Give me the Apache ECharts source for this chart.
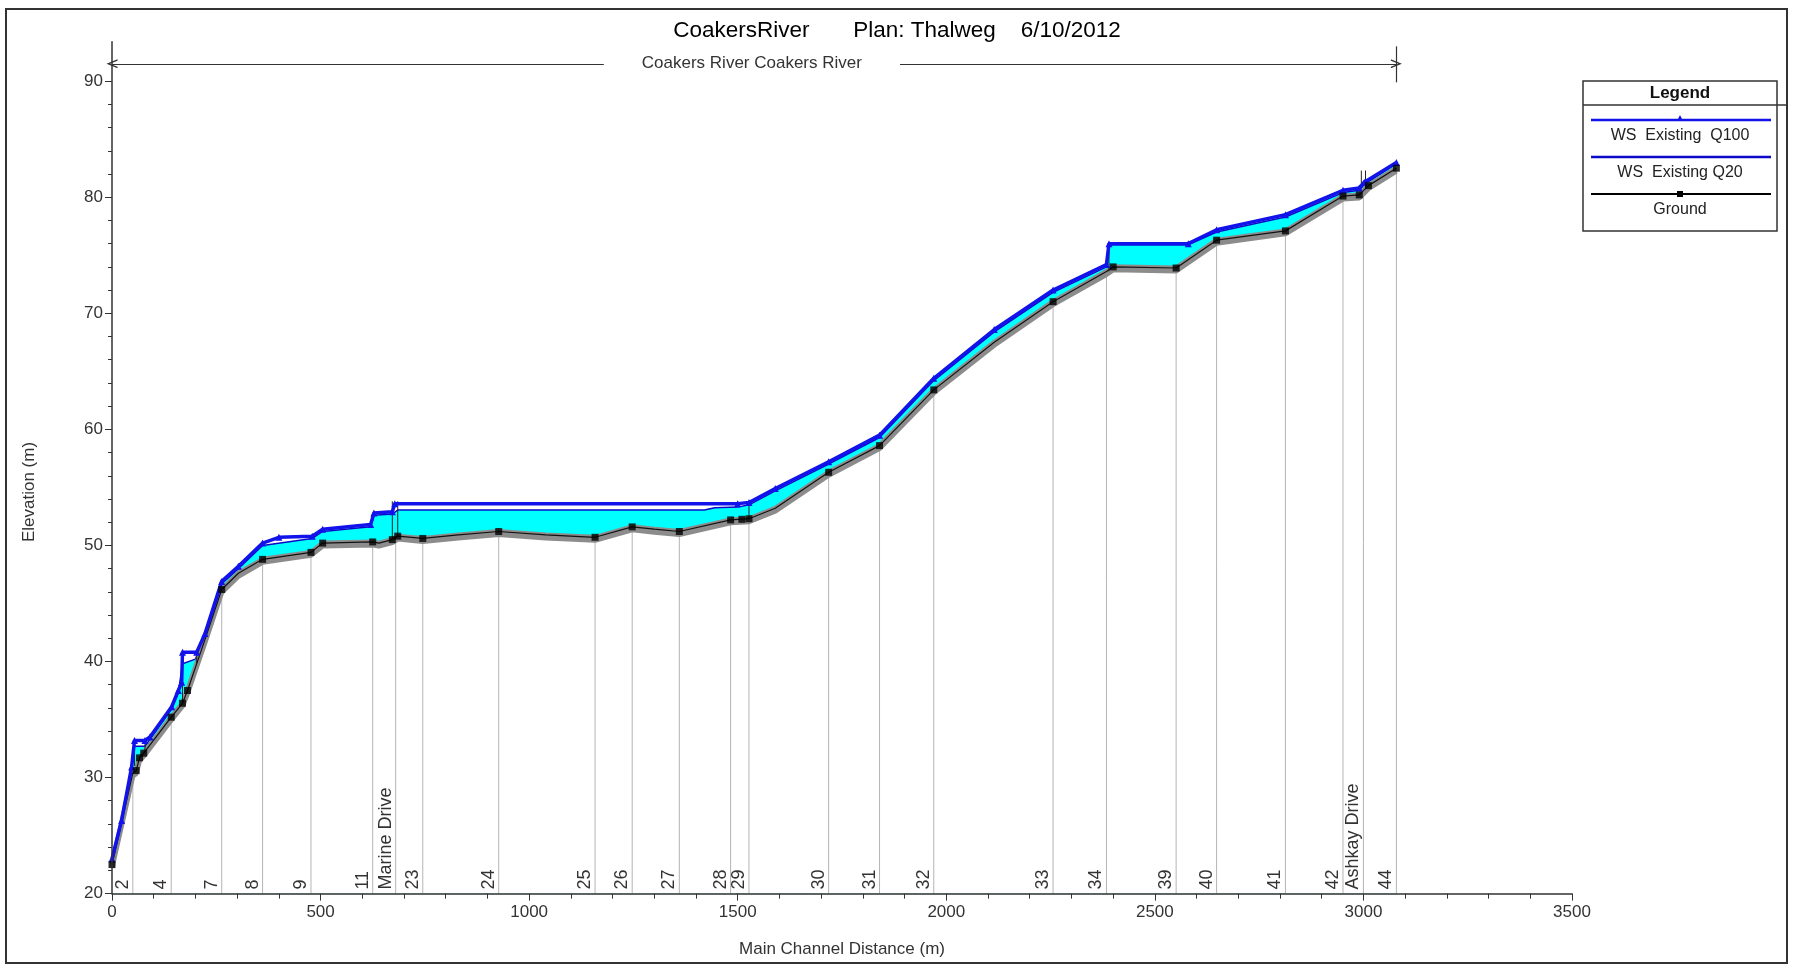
<!DOCTYPE html>
<html>
<head>
<meta charset="utf-8">
<script src="https://cdn.jsdelivr.net/npm/echarts@6/dist/echarts.min.js"></script>
<style>
html,body{margin:0;padding:0;background:#fff;}
#chart{width:1794px;height:968px;}
</style>
</head>
<body>
<div id="chart"></div>
<script>
// ---------------- data ----------------
const titleText = 'CoakersRiver       Plan: Thalweg    6/10/2012';
const reachName = 'Coakers River Coakers River';
const reachStart = 0, reachEnd = 3079, reachElev = 91.5, reachGapStart = 1179, reachGapEnd = 1889;

const sectionNames = ['2','4','7','8','9','11','Marine Drive','23','24','25','26','27','28','29','30','31','32','33','34','39','40','41','42','Ashkay Drive','44'];
const sectionDist  = [50,142,263,361,477,625,680,745,927,1158,1247,1360,1483,1527,1718,1840,1970,2256,2384,2551,2648,2813,2951,3000,3079];
const sectionElev  = [30.5,35.2,46.2,48.8,49.4,50.3,50.8,50.6,51.2,50.7,51.6,51.2,52.2,52.3,56.3,58.6,63.4,71.0,73.6,73.9,76.3,77.1,80.1,80.3,82.5];

const groundDist = [0,50,58,66,76,142,169,181,222,263,303,361,477,505,625,640,672,685,745,830,927,1040,1158,1247,1300,1360,1483,1527,1590,1718,1840,1970,2115,2256,2384,2400,2551,2648,2813,2951,2990,3012,3079];
const groundElev = [22.5,30.4,30.6,31.7,32.1,35.2,36.4,37.5,41.8,46.2,47.6,48.8,49.4,50.2,50.3,50.2,50.5,50.8,50.6,50.9,51.2,50.9,50.7,51.6,51.4,51.2,52.2,52.3,53.2,56.3,58.6,63.4,67.5,71.0,73.6,74.0,73.9,76.3,77.1,80.1,80.2,81.0,82.5];

const groundMarkDist = [0,58,66,76,142,169,181,263,361,477,505,625,672,685,745,927,1158,1247,1360,1483,1510,1527,1718,1840,1970,2256,2400,2551,2648,2813,2951,2990,3012,3079];
const groundMarkElev = [22.5,30.6,31.7,32.1,35.2,36.4,37.5,46.2,48.8,49.4,50.2,50.3,50.5,50.8,50.6,51.2,50.7,51.6,51.2,52.2,52.25,52.3,56.3,58.6,63.4,71.0,74.0,73.9,76.3,77.1,80.1,80.2,81.0,82.5];

const q100Dist = [0,23,47,54,79,91,143,159,167,169,203,223,263,303,361,400,480,505,620,628,672,678,1500,1527,1590,1718,1840,1970,2115,2256,2384,2390,2580,2648,2813,2951,2990,3002,3079];
const q100Elev = [23.0,26.3,30.9,33.2,33.2,33.5,36.1,37.5,38.2,40.8,40.8,42.4,46.9,48.2,50.2,50.7,50.8,51.4,51.8,52.8,52.9,53.6,53.6,53.7,54.9,57.2,59.5,64.4,68.6,72.0,74.2,76.0,76.0,77.2,78.5,80.6,80.8,81.3,83.0];

const q20Dist = [0,23,47,54,79,91,143,159,169,200,223,263,303,361,480,505,620,628,672,685,1420,1445,1500,1527,1590,1718,1840,1970,2115,2256,2384,2390,2580,2648,2813,2951,2990,3002,3079];
const q20Elev = [22.9,26.1,30.7,32.7,32.7,33.3,35.9,37.3,39.8,40.2,42.2,46.7,48.0,50.0,50.6,51.2,51.6,52.6,52.7,53.05,53.05,53.25,53.3,53.5,54.7,57.0,59.3,64.2,68.4,71.8,74.0,75.9,75.9,77.0,78.3,80.4,80.6,81.1,82.9];

// bridges / culverts (thin vertical outlines)
const structDist = [54,79,169,203,672,685,1527,2390,2995,3005];
const structLow  = [31.0,32.1,36.5,39.8,50.5,50.8,52.3,73.6,80.9,80.9];
const structHigh = [33.3,33.3,40.9,40.9,53.8,53.8,53.7,76.1,82.3,82.3];

const yMajorTicks = [20,30,40,50,60,70,80,90];
const yMinorTicks = [22,24,26,28,32,34,36,38,42,44,46,48,52,54,56,58,62,64,66,68,72,74,76,78,82,84,86,88];

// ---------------- chart ----------------
const FONT = 'Liberation Sans, Arial, sans-serif';
const pairs = (xs, ys) => xs.map((x, i) => [x, ys[i]]);
const chevron = 'path://M0,10 L5,0 L10,10 L8.4,10 L5,3.2 L1.6,10 Z';

const chart = echarts.init(document.getElementById('chart'), null, {renderer: 'canvas'});

const option = {
  animation: false,
  backgroundColor: '#fff',
  title: {
    text: titleText, left: 'center', top: 14,
    textStyle: {fontFamily: FONT, fontSize: 22.5, fontWeight: 'normal', color: '#000'}
  },
  grid: {left: 112, right: 222, top: 41.7, bottom: 74.4, containLabel: false},
  xAxis: {
    type: 'value', min: 0, max: 3500, interval: 500, z: 20,
    name: 'Main Channel Distance (m)', nameLocation: 'middle', nameGap: 47,
    nameTextStyle: {fontFamily: FONT, fontSize: 17, color: '#333'},
    axisLine: {lineStyle: {color: '#333', width: 1.5}},
    axisTick: {length: 7, lineStyle: {color: '#333'}},
    minorTick: {show: true, splitNumber: 5, length: 5, lineStyle: {color: '#333'}},
    axisLabel: {fontFamily: FONT, fontSize: 17, color: '#333', margin: 10, formatter: v => String(v)},
    splitLine: {show: false}
  },
  yAxis: [{
    type: 'value', min: 20, max: 93.4, interval: 10, z: 20,
    axisLine: {show: true, lineStyle: {color: '#333', width: 1.5}},
    axisTick: {show: true, length: 7, lineStyle: {color: '#333'}, customValues: yMajorTicks},
    axisLabel: {fontFamily: FONT, fontSize: 17, color: '#333', margin: 9, customValues: yMajorTicks,
      formatter: v => (v % 10 === 0 ? String(v) : '')},
    splitLine: {show: false}
  }, {
    type: 'value', min: 20, max: 93.4, position: 'left', offset: 0, z: 20,
    axisLine: {show: false},
    axisTick: {show: true, length: 4, lineStyle: {color: '#333'}, customValues: yMinorTicks},
    axisLabel: {show: false},
    splitLine: {show: false}
  }],
  series: [
    { // water fill (Q20) + line
      type: 'line', name: 'WS Existing Q20', data: pairs(q20Dist, q20Elev),
      showSymbol: false, silent: true, z: 1,
      lineStyle: {color: '#0a0ac8', width: 1.5},
      areaStyle: {color: '#00ffff', opacity: 1, origin: 'start'}
    },
    { // white under ground
      type: 'line', data: pairs(groundDist, groundElev),
      showSymbol: false, silent: true, z: 2,
      lineStyle: {opacity: 0},
      areaStyle: {color: '#ffffff', opacity: 1, origin: 'start'}
    },
    { // section lines + labels
      type: 'custom', z: 3, silent: true,
      data: pairs(sectionDist, sectionElev),
      encode: {x: 0, y: 1},
      renderItem: function (params, api) {
        const x = api.value(0), top = api.value(1);
        const p0 = api.coord([x, 20]);
        const p1 = api.coord([x, top]);
        return {
          type: 'group',
          children: [
            {type: 'line', shape: {x1: p0[0], y1: p0[1], x2: p1[0], y2: p1[1]},
             style: {stroke: '#b4b4b4', lineWidth: 1}},
            {type: 'text', x: p0[0] - 1, y: p0[1] - 4, rotation: Math.PI / 2,
             style: {text: sectionNames[params.dataIndex], font: '18px ' + FONT, fill: '#333',
                     textAlign: 'left', textVerticalAlign: 'bottom', align: 'left', verticalAlign: 'bottom'}}
          ]
        };
      }
    },
    { // gray ground band
      type: 'line', data: pairs(groundDist, groundElev),
      showSymbol: false, silent: true, z: 4,
      lineStyle: {color: '#8c8c8c', width: 5, shadowColor: '#8c8c8c', shadowOffsetY: 3, shadowBlur: 0}
    },
    { // ground line + reach annotation
      type: 'line', name: 'Ground', data: pairs(groundDist, groundElev),
      showSymbol: false, silent: true, z: 5,
      lineStyle: {color: '#111', width: 1.2},
      markLine: {
        silent: true, animation: false, symbol: ['none', 'none'],
        lineStyle: {color: '#333', width: 1.2, type: 'solid'},
        label: {show: false},
        data: [
          [{coord: [reachStart, reachElev], symbol: chevron, symbolSize: [9, 11]},
           {coord: [reachGapStart, reachElev], symbol: 'none',
            label: {show: true, position: 'end', distance: 38, formatter: reachName,
                    fontFamily: FONT, fontSize: 17, color: '#333'}}],
          [{coord: [reachGapEnd, reachElev], symbol: 'none'},
           {coord: [reachEnd, reachElev], symbol: chevron, symbolSize: [9, 11]}],
          [{coord: [reachEnd, 89.9], symbol: 'none'}, {coord: [reachEnd, 93.0], symbol: 'none'}]
        ]
      }
    },
    { // bridges / culverts
      type: 'custom', z: 6, silent: true,
      data: structDist.map((d, i) => [d, structLow[i], structHigh[i]]),
      encode: {x: 0, y: [1, 2]},
      renderItem: function (params, api) {
        const a = api.coord([api.value(0), api.value(1)]);
        const b = api.coord([api.value(0), api.value(2)]);
        return {type: 'line', shape: {x1: a[0], y1: a[1], x2: b[0], y2: b[1]},
                style: {stroke: '#222', lineWidth: 1}};
      }
    },
    { // Q100
      type: 'line', name: 'WS Existing Q100', data: pairs(q100Dist, q100Elev),
      symbol: 'triangle', symbolSize: 7, showSymbol: true, silent: true, z: 7,
      lineStyle: {color: '#1212ea', width: 3.5},
      itemStyle: {color: '#1212ea'}
    },
    { // ground markers
      type: 'scatter', data: pairs(groundMarkDist, groundMarkElev),
      symbol: 'rect', symbolSize: 7, silent: true, z: 8,
      itemStyle: {color: '#000'}
    }
  ],
  graphic: [
    {type: 'rect', shape: {x: 6, y: 9, width: 1781, height: 954}, style: {fill: 'none', stroke: '#333', lineWidth: 2}, silent: true},
    {type: 'text', x: 29, y: 492, rotation: Math.PI / 2,
     style: {text: 'Elevation (m)', font: '17px ' + FONT, fill: '#333', align: 'center', verticalAlign: 'middle', textAlign: 'center', textVerticalAlign: 'middle'}},
    // legend box
    {type: 'rect', shape: {x: 1583, y: 81, width: 194, height: 150}, style: {fill: '#fff', stroke: '#333', lineWidth: 1.5}},
    {type: 'line', shape: {x1: 1583, y1: 105, x2: 1787, y2: 105}, style: {stroke: '#333', lineWidth: 1.5}},
    {type: 'text', x: 1680, y: 93, style: {text: 'Legend', font: 'bold 17px ' + FONT, fill: '#111', align: 'center', verticalAlign: 'middle', textAlign: 'center', textVerticalAlign: 'middle'}},
    {type: 'line', shape: {x1: 1591, y1: 120, x2: 1771, y2: 120}, style: {stroke: '#1212ea', lineWidth: 2.5}},
    {type: 'polygon', shape: {points: [[1677, 121], [1683, 121], [1680, 115]]}, style: {fill: '#1212ea'}},
    {type: 'text', x: 1680, y: 136, style: {text: 'WS  Existing  Q100', font: '16px ' + FONT, fill: '#222', align: 'center', verticalAlign: 'middle', textAlign: 'center', textVerticalAlign: 'middle'}},
    {type: 'line', shape: {x1: 1591, y1: 157, x2: 1771, y2: 157}, style: {stroke: '#0a0ac8', lineWidth: 2.5}},
    {type: 'text', x: 1680, y: 173, style: {text: 'WS  Existing Q20', font: '16px ' + FONT, fill: '#222', align: 'center', verticalAlign: 'middle', textAlign: 'center', textVerticalAlign: 'middle'}},
    {type: 'line', shape: {x1: 1591, y1: 194, x2: 1771, y2: 194}, style: {stroke: '#000', lineWidth: 2}},
    {type: 'rect', shape: {x: 1677, y: 191, width: 6, height: 6}, style: {fill: '#000'}},
    {type: 'text', x: 1680, y: 210, style: {text: 'Ground', font: '16px ' + FONT, fill: '#222', align: 'center', verticalAlign: 'middle', textAlign: 'center', textVerticalAlign: 'middle'}}
  ]
};
chart.setOption(option);
</script>
</body>
</html>
